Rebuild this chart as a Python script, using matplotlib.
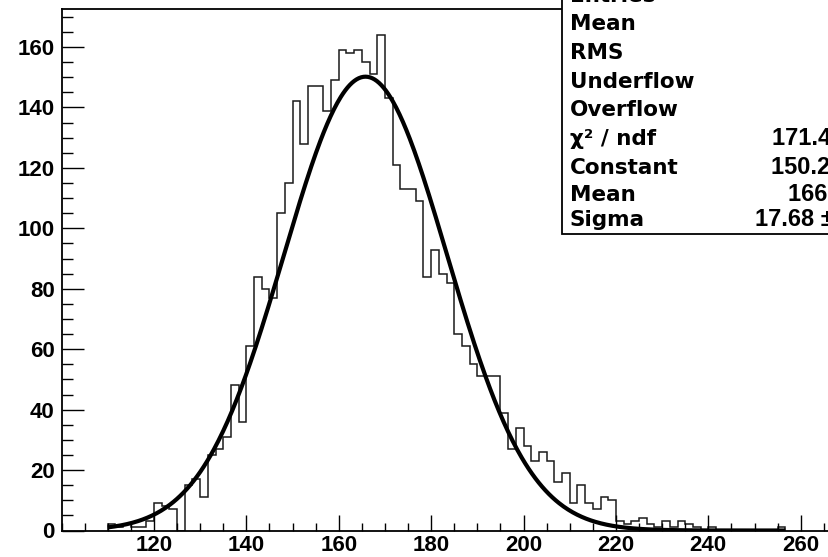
import numpy as np
import matplotlib
matplotlib.use("Agg")
import matplotlib.pyplot as plt
from matplotlib.patches import Rectangle

# histogram: bins of width 5/3 starting at 100, first filled bin starts at 110
bin_width = 5.0 / 3.0
first_edge = 110.0
counts = [2, 1, 2, 1, 1, 3, 9, 8, 7, 0,
          15, 17, 11, 25, 27, 31, 48, 36, 61, 84,
          80, 77, 105, 115, 142, 128, 147, 147, 139, 149,
          159, 158, 159, 155, 151, 164, 143, 121, 113, 113,
          109, 84, 93, 85, 82, 65, 61, 55, 51, 51,
          51, 39, 27, 34, 28, 23, 26, 23, 16, 19,
          9, 15, 9, 7, 11, 10, 3, 2, 3, 4,
          2, 1, 3, 1, 3, 2, 1, 0, 1, 0,
          0, 0, 0, 0, 0, 0, 0, 1]

# gaussian fit parameters
fit_const = 150.2
fit_mean = 165.8
fit_sigma = 17.68
fit_range = (110.0, 256.67)

xticks = [120, 140, 160, 180, 200, 220, 240, 260]
yticks = [0, 20, 40, 60, 80, 100, 120, 140, 160]

stat_names = ["Entries", "Mean", "RMS", "Underflow", "Overflow",
              "\u03c7\u00b2 / ndf", "Constant", "Mean", "Sigma"]
stat_values = ["", "", "", "", "", "171.4 / 85", "150.2 \u00b1 4.6",
               "166 \u00b1 0.4", "17.68 \u00b1 0.31"]

W, H = 829, 557
fig = plt.figure(figsize=(W / 100, H / 100), dpi=100)

def fx(p):
    return p / W

def fy(p):
    return 1 - p / H

# axes placement in pixels (axis range goes past the right edge of the canvas)
x0, x1 = 100, 280
left_px, scale_x = 61.5, 4.62
bottom_px, top_px = 530.5, 9.3
ax = fig.add_axes([fx(left_px), fy(bottom_px),
                   (x1 - x0) * scale_x / W, (bottom_px - top_px) / H])

edges = first_edge + bin_width * np.arange(len(counts) + 1)
ax.stairs(counts, edges, color="#1a1a1a", linewidth=1.1, baseline=0)

xf = np.linspace(fit_range[0], fit_range[1], 600)
yf = fit_const * np.exp(-0.5 * ((xf - fit_mean) / fit_sigma) ** 2)
ax.plot(xf, yf, color="black", linewidth=3.0, solid_capstyle="butt")

ax.set_xlim(x0, x1)
ax.set_ylim(0, 172.5)

tick_font = {"family": "Liberation Sans", "weight": "bold", "size": 16}
ax.set_xticks(xticks)
ax.set_xticklabels([str(t) for t in xticks], fontdict=tick_font)
ax.set_yticks(yticks)
ax.set_yticklabels([str(t) for t in yticks], fontdict=tick_font)
ax.set_xticks(np.arange(100, 281, 5), minor=True)
ax.set_yticks(np.arange(0, 171, 5), minor=True)
ax.tick_params(axis="x", which="major", direction="in", length=11.5, width=1.0, pad=3)
ax.tick_params(axis="x", which="minor", direction="in", length=5.8, width=1.0)
ax.tick_params(axis="y", which="major", direction="in", length=16, width=1.0, pad=5)
ax.tick_params(axis="y", which="minor", direction="in", length=8, width=1.0)
ax.tick_params(top=False, right=False, which="both")
for side in ["left", "bottom", "top"]:
    ax.spines[side].set_linewidth(1.3)
ax.spines["right"].set_visible(False)

# stats box, cut off at the top and right of the canvas like the original
box = Rectangle((fx(562), fy(233.5)), 0.5, 0.8, transform=fig.transFigure,
                facecolor="white", edgecolor="black", linewidth=1.3, zorder=10)
fig.add_artist(box)

baselines = [2, 30, 59, 88, 116, 145, 174, 201, 226]
value_left = [0, 0, 0, 0, 0, 772, 771, 788, 755]
for name, val, yb, xl in zip(stat_names, stat_values, baselines, value_left):
    fig.text(fx(570), fy(yb), name, ha="left", va="baseline",
             fontsize=15.5, fontweight="bold", family="DejaVu Sans", zorder=11)
    if val:
        fig.text(fx(xl), fy(yb), val, ha="left", va="baseline",
                 fontsize=17, fontweight="bold", family="Liberation Sans", zorder=11)

fig.savefig("out.png", dpi=100)
